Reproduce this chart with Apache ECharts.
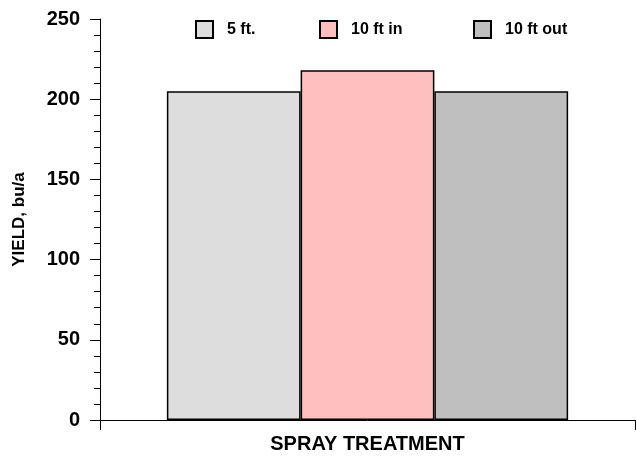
<!DOCTYPE html>
<html>
<head>
<meta charset="utf-8">
<script src="https://cdn.jsdelivr.net/npm/echarts@6/dist/echarts.min.js"></script>
<style>html,body{margin:0;padding:0;background:#fff}#c{width:636px;height:459px}</style>
</head>
<body>
<div id="c"></div>
<script>
const categories = ['SPRAY TREATMENT'];
const seriesNames = ['5 ft.', '10 ft in', '10 ft out'];
const values5ft = [205];
const values10in = [218];
const values10out = [205];
const seriesColors = ['#DDDDDD', '#FFBFBF', '#BFBFBF'];
const yTicks = [0, 50, 100, 150, 200, 250];

const chart = echarts.init(document.getElementById('c'), null, {renderer: 'canvas'});
const font = 'Liberation Sans, Arial, sans-serif';
const allValues = [values5ft, values10in, values10out];
const legendLefts = [190, 314, 468];
const option = {
  animation: false,
  grid: {left: 100, right: 1, top: 19, bottom: 39, containLabel: false},
  legend: seriesNames.map((n, i) => ({
    data: [n], left: legendLefts[i], top: 15, itemWidth: 17, itemHeight: 17, itemGap: 0,
    icon: 'rect',
    textStyle: {fontFamily: font, fontWeight: 'bold', fontSize: 16, color: '#000', padding: [0, 0, 0, 9]}
  })),
  xAxis: {
    type: 'category', data: categories,
    name: 'SPRAY TREATMENT', nameLocation: 'middle', nameGap: 14,
    nameTextStyle: {fontFamily: font, fontWeight: 'bold', fontSize: 20, color: '#000'},
    axisLine: {lineStyle: {color: '#000', width: 1}},
    axisTick: {show: true, length: 10, lineStyle: {color: '#000'}},
    axisLabel: {show: false}
  },
  yAxis: {
    type: 'value', min: yTicks[0], max: yTicks[yTicks.length - 1], interval: yTicks[1] - yTicks[0],
    name: 'YIELD, bu/a', nameLocation: 'middle', nameGap: 72, nameRotate: 90,
    nameTextStyle: {fontFamily: font, fontWeight: 'bold', fontSize: 17, color: '#000'},
    axisLine: {show: true, lineStyle: {color: '#000', width: 1}},
    axisTick: {show: true, length: 10, lineStyle: {color: '#000'}},
    minorTick: {show: true, splitNumber: 5, length: 6, lineStyle: {color: '#000'}},
    splitLine: {show: false},
    axisLabel: {fontFamily: font, fontWeight: 'bold', fontSize: 20, color: '#000', margin: 20}
  },
  series: seriesNames.map((n, i) => ({
    name: n, type: 'bar', data: allValues[i],
    barGap: 0, barCategoryGap: '25%',
    itemStyle: {color: seriesColors[i], borderColor: '#000', borderWidth: 1.5}
  }))
};
chart.setOption(option);
</script>
</body>
</html>
